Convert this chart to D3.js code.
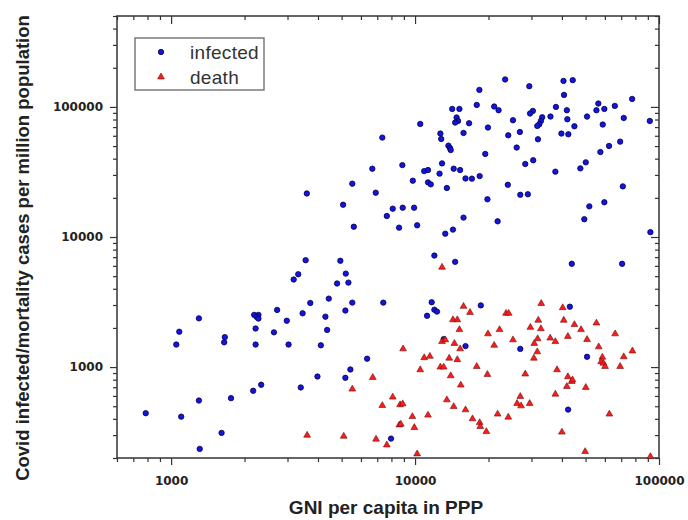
<!DOCTYPE html>
<html>
<head>
<meta charset="utf-8">
<script src="https://cdn.jsdelivr.net/npm/d3@7"></script>
<style>
  body { margin: 0; background: #fff; }
  svg { display: block; }
</style>
</head>
<body>
<div id="chart"></div>
<script>
// --- DATA ---
var gniInfected = [
  7340, 6680, 5530, 6900, 3600, 5070, 8100, 7660, 5610, 8600, 8870,
  23400, 40600, 44300, 29400, 18350, 40800, 77600, 56400, 17900, 21100,
  22000, 14200, 15200, 37800, 41900, 55400, 59700, 65900, 30400, 29600,
  35900, 50700, 71700, 14800, 15000, 14600, 25200, 33200, 32800, 32300,
  31700, 42100, 16650, 10500, 91700, 45000, 58800, 19900, 15800, 24100,
  26900, 12700, 12800, 39800, 42500, 31900, 13700, 13900, 14000, 26100,
  62400, 69300, 57500, 19400, 12900, 28300, 30500, 50100, 47600, 14400,
  15300, 10900, 11300, 12600, 37600, 18400, 16100, 17100, 9790, 11300,
  11600, 13500, 24000, 71100, 19800, 27000, 29000, 51800, 59700, 8900,
  9910, 49400, 15800, 10200, 21800, 14300, 13300, 92200,
  3560, 4940, 5200, 3320, 3180, 5330, 4790, 4430, 3720, 5530, 7410,
  2720, 5180, 2190, 2280, 2240, 2280, 3460, 4290, 1300, 2980, 2220,
  4360, 1080, 2640, 1660, 1650, 1050, 2220, 3030, 4110, 6360, 5430,
  3980, 5180, 2340, 2170, 3400, 1760, 1300, 787, 1100, 1610, 7970, 1310,
  12000, 14600, 43900, 70600, 11700, 11200, 12000, 12300, 18600, 43100,
  13100, 16100, 27000, 50700, 42400
];
var infected = [
  58100, 33500, 25700, 21900, 21600, 17700, 16500, 14500, 12000, 11800, 35700,
  162600, 158500, 160600, 144300, 135200, 123700, 115200, 106200, 103600, 100700,
  94300, 96500, 96500, 100000, 94300, 94300, 96500, 101800, 93200, 89000,
  84300, 84300, 82300, 82900, 78000, 75800, 79000, 83300, 78000, 73600,
  71400, 80400, 74900, 74000, 78000, 71000, 73200, 69400, 63100, 60500,
  64200, 62400, 56700, 62400, 61600, 56400, 50400, 48300, 46600, 48700,
  50100, 54100, 45000, 43500, 36800, 36400, 38900, 37500, 33700, 33500,
  32700, 32100, 32700, 30700, 31800, 29400, 28200, 28100, 27100, 26300,
  25400, 23800, 25200, 24500, 19500, 21100, 21300, 17200, 18500, 16800,
  16800, 13700, 14100, 12300, 13200, 11400, 10600, 10900,
  6630, 6560, 5230, 5170, 4710, 4460, 4390, 3360, 3110, 3130, 3130,
  2750, 2720, 2520, 2520, 2430, 2360, 2590, 2440, 2370, 2270, 1980,
  1930, 1870, 1850, 1700, 1550, 1490, 1490, 1490, 1470, 1160, 958,
  846, 827, 731, 657, 697, 577, 553, 442, 416, 312, 282, 235,
  7200, 6440, 6220, 6220, 3150, 2480, 2760, 2670, 2980, 2910,
  1640, 1450, 1380, 1200, 471
];
var gniDeath = [
  6710, 5530, 8100, 7340, 8680, 8620, 3610, 5100, 6920, 7660,
  12900, 15800, 16800, 23600, 24200, 32900, 40300, 14300, 14900, 32000,
  40700, 45000, 55400, 29700, 32800, 47900, 15200, 22200, 19900, 66100,
  35800, 37600, 31800, 25200, 30800, 50700, 42300, 12900, 13300, 14500,
  21100, 15300, 56600, 8930, 31700, 77800, 71700, 58600, 57900, 59200,
  60100, 69300, 10900, 11500, 13800, 14900, 30700, 12700, 13100, 17900,
  10500, 38200, 14000, 19800, 28300, 42300, 43900, 44200, 41900, 15400,
  50100, 37600, 27000, 13500, 8900, 14400, 26200, 27200, 29500, 16100,
  11300, 9750, 21800, 24100, 62600, 8740, 9930, 17200, 18400, 18500,
  19600, 40000, 49800, 10200, 92200
];
var death = [
  832, 677, 588, 506, 513, 359, 299, 294, 279, 252,
  5850, 2930, 2630, 2590, 2590, 3080, 2860, 2310, 2310, 2290,
  2290, 2120, 2180, 2020, 1970, 1940, 1940, 1940, 1800, 1800,
  1670, 1570, 1650, 1620, 1520, 1630, 1720, 1570, 1620, 1520,
  1470, 1380, 1430, 1380, 1310, 1330, 1200, 1190, 1100, 1070,
  1010, 1010, 1180, 1210, 1170, 1140, 1170, 1000, 1000, 1010,
  953, 953, 857, 877, 884, 842, 775, 798, 709, 727,
  697, 619, 594, 560, 522, 497, 525, 503, 525, 469,
  427, 416, 435, 412, 435, 364, 343, 400, 374, 349,
  319, 316, 224, 215, 205
];
var xMajorTicks = [1000, 10000, 100000];
var yMajorTicks = [1000, 10000, 100000];
var legendLabels = ["infected", "death"];
var xTitle = "GNI per capita in PPP";
var yTitle = "Covid infected/mortality cases per million population";

// --- SETUP ---
var width = 688, height = 520;
var plot = { left: 117, right: 659, top: 16, bottom: 458 };

var svg = d3.select("#chart").append("svg")
  .attr("width", width)
  .attr("height", height);

var x = d3.scaleLog().domain([600, 100000]).range([plot.left, plot.right]);
var y = d3.scaleLog().domain([200, 500000]).range([plot.bottom, plot.top]);

var xMinor = x.ticks().filter(function(d) { return xMajorTicks.indexOf(d) < 0; });
var yMinor = y.ticks().filter(function(d) { return yMajorTicks.indexOf(d) < 0; });

function styleAxis(g) {
  g.select(".domain").remove();
  g.selectAll("line").attr("stroke", "#333").attr("stroke-width", 1.2);
  g.selectAll("text")
    .attr("fill", "#222")
    .style("font-family", "'DejaVu Sans', sans-serif")
    .style("font-weight", "bold")
    .style("font-size", "12px");
}

// bottom / left: outward ticks with labels
svg.append("g").attr("transform", "translate(0," + plot.bottom + ")")
  .call(d3.axisBottom(x).tickValues(xMajorTicks).tickSize(7).tickPadding(11)
    .tickFormat(d3.format("d")))
  .call(styleAxis);
svg.append("g").attr("transform", "translate(0," + plot.bottom + ")")
  .call(d3.axisBottom(x).tickValues(xMinor).tickSize(4).tickFormat(""))
  .call(styleAxis);
svg.append("g").attr("transform", "translate(" + plot.left + ",0)")
  .call(d3.axisLeft(y).tickValues(yMajorTicks).tickSize(7).tickPadding(7)
    .tickFormat(d3.format("d")))
  .call(styleAxis);
svg.append("g").attr("transform", "translate(" + plot.left + ",0)")
  .call(d3.axisLeft(y).tickValues(yMinor).tickSize(4).tickFormat(""))
  .call(styleAxis);

// top / right: inward ticks, no labels
svg.append("g").attr("transform", "translate(0," + plot.top + ")")
  .call(d3.axisTop(x).tickValues(xMajorTicks).tickSize(-8).tickFormat(""))
  .call(styleAxis);
svg.append("g").attr("transform", "translate(0," + plot.top + ")")
  .call(d3.axisTop(x).tickValues(xMinor).tickSize(-4).tickFormat(""))
  .call(styleAxis);
svg.append("g").attr("transform", "translate(" + plot.right + ",0)")
  .call(d3.axisRight(y).tickValues(yMajorTicks).tickSize(-8).tickFormat(""))
  .call(styleAxis);
svg.append("g").attr("transform", "translate(" + plot.right + ",0)")
  .call(d3.axisRight(y).tickValues(yMinor).tickSize(-4).tickFormat(""))
  .call(styleAxis);

// frame
svg.append("rect")
  .attr("x", plot.left).attr("y", plot.top)
  .attr("width", plot.right - plot.left).attr("height", plot.bottom - plot.top)
  .attr("fill", "none").attr("stroke", "#333").attr("stroke-width", 1.5);

// --- MARKS ---
var blueFill = "#1414e0", blueEdge = "#00004a";
var redFill = "#ff1a1a", redEdge = "#6a1010";
var tri = d3.symbol().type(d3.symbolTriangle).size(20);

svg.append("g").selectAll("circle")
  .data(d3.range(gniInfected.length)).enter().append("circle")
  .attr("cx", function(i) { return x(gniInfected[i]); })
  .attr("cy", function(i) { return y(infected[i]); })
  .attr("r", 2.7)
  .attr("fill", blueFill)
  .attr("stroke", blueEdge)
  .attr("stroke-width", 0.8);

svg.append("g").selectAll("path")
  .data(d3.range(gniDeath.length)).enter().append("path")
  .attr("d", tri)
  .attr("transform", function(i) {
    return "translate(" + x(gniDeath[i]) + "," + y(death[i]) + ")";
  })
  .attr("fill", redFill)
  .attr("stroke", redEdge)
  .attr("stroke-width", 0.6);

// --- LEGEND ---
var legend = svg.append("g");
legend.append("rect")
  .attr("x", 135).attr("y", 38).attr("width", 129).attr("height", 52)
  .attr("fill", "#fff").attr("stroke", "#666").attr("stroke-width", 1.3);
legend.append("circle")
  .attr("cx", 161).attr("cy", 52).attr("r", 2.7)
  .attr("fill", blueFill).attr("stroke", blueEdge).attr("stroke-width", 0.8);
legend.append("path")
  .attr("d", tri).attr("transform", "translate(161,77)")
  .attr("fill", redFill).attr("stroke", redEdge).attr("stroke-width", 0.6);
legend.selectAll("text.lbl")
  .data(legendLabels).enter().append("text")
  .attr("class", "lbl")
  .attr("x", 190)
  .attr("y", function(d, i) { return 59 + i * 24.5; })
  .attr("fill", "#333")
  .style("font-family", "'Liberation Sans', Arial, sans-serif")
  .style("font-size", "19px")
  .style("letter-spacing", "0.3px")
  .text(function(d) { return d; });

// --- AXIS TITLES ---
svg.append("text")
  .attr("x", 386).attr("y", 514)
  .attr("text-anchor", "middle")
  .attr("fill", "#222")
  .style("font-family", "'Liberation Sans', Arial, sans-serif")
  .style("font-weight", "bold")
  .style("font-size", "19px")
  .text(xTitle);

svg.append("text")
  .attr("transform", "translate(29,248) rotate(-90)")
  .attr("text-anchor", "middle")
  .attr("fill", "#222")
  .style("font-family", "'Liberation Sans', Arial, sans-serif")
  .style("font-weight", "bold")
  .style("font-size", "18.5px")
  .text(yTitle);
</script>
</body>
</html>
